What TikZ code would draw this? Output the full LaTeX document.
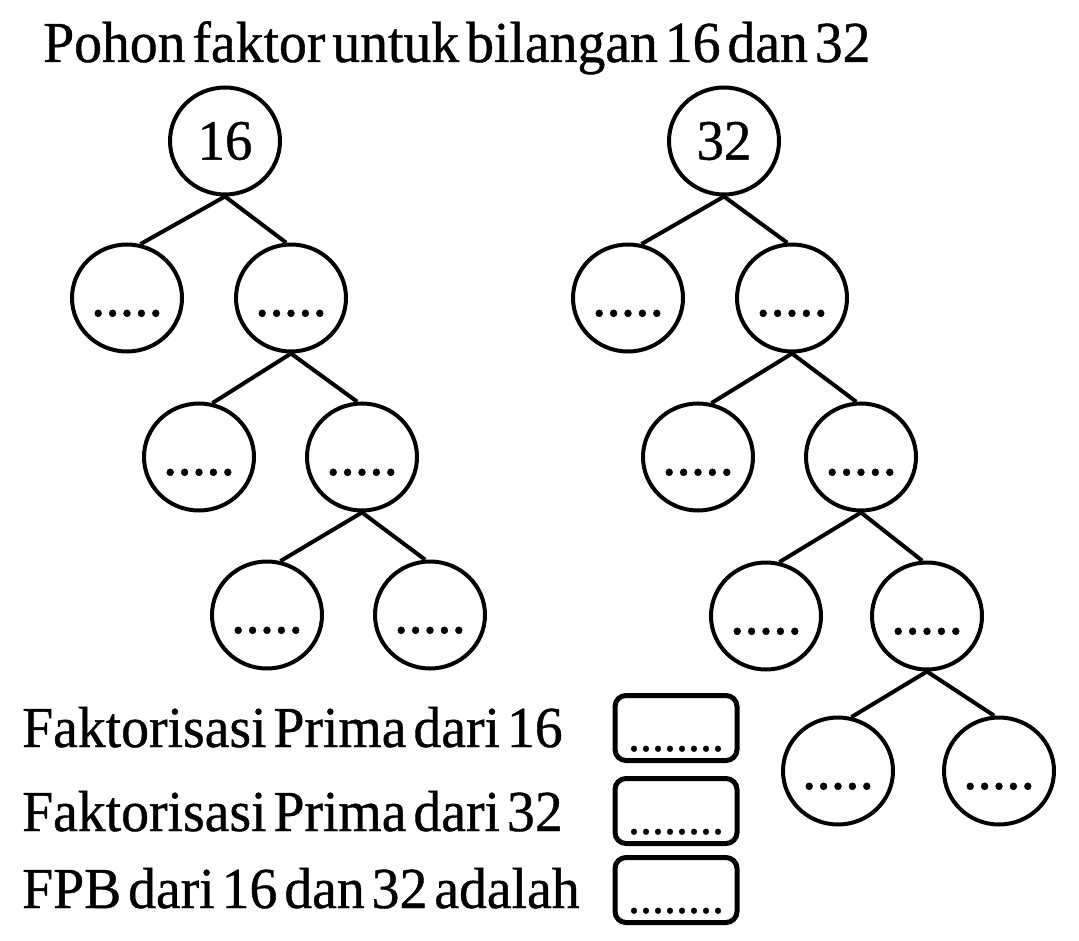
\documentclass[tikz,border=0pt]{standalone}
\usepackage{fontspec}
\setmainfont{Liberation Serif}[FakeStretch=0.96,FakeBold=0.7,WordSpace=0.5]
\usetikzlibrary{shapes.geometric}
\begin{document}
\begin{tikzpicture}[x=1pt,y=-1pt,
  cnode/.style={ellipse, draw, line width=4pt, minimum width=110pt, minimum height=107pt, inner sep=0pt,
    font=\fontsize{57}{58}\selectfont},
  edge/.style={line width=4pt},
  dotlab/.style={anchor=base, inner sep=0pt, font=\fontsize{60}{60}\selectfont},
  ansbox/.style={draw, line width=5pt, rounded corners=11pt, minimum width=122pt, minimum height=65pt, inner sep=0pt},
  boxdots/.style={anchor=base, inner sep=0pt, font=\fontsize{50}{50}\selectfont},
  txt/.style={anchor=base west, inner sep=0pt, font=\fontsize{58}{60}\selectfont}]
\useasboundingbox (0,0) rectangle (1079,941);
\newcommand{\putdots}[1]{\node[dotlab] at ([yshift=-18pt]#1.center) {.....};}
% title
\node[txt] (title) at (43,62) {Pohon faktor untuk bilangan 16 dan 32};
% left tree
\node[cnode] (a0) at (225,141) {16};
\node[cnode] (a1) at (127,298) {};
\node[cnode] (a2) at (291,298) {};
\node[cnode] (a3) at (199,457) {};
\node[cnode] (a4) at (362,457) {};
\node[cnode] (a5) at (267,615) {};
\node[cnode] (a6) at (430,615) {};
% right tree
\node[cnode] (b0) at (724,141) {32};
\node[cnode] (b1) at (628,298) {};
\node[cnode] (b2) at (792,298) {};
\node[cnode] (b3) at (698,457) {};
\node[cnode] (b4) at (861,457) {};
\node[cnode] (b5) at (766,616) {};
\node[cnode] (b6) at (927,616) {};
\node[cnode] (b7) at (838,771) {};
\node[cnode] (b8) at (999,771) {};
\foreach \n in {a1,a2,a3,a4,a5,a6,b1,b2,b3,b4,b5,b6,b7,b8}{\putdots{\n}}
% edges
\draw[edge] (a0.south) -- (a1.76);
\draw[edge] (a0.south) -- (a2.95);
\draw[edge] (a2.south) -- (a3.76);
\draw[edge] (a2.south) -- (a4.95);
\draw[edge] (a4.south) -- (a5.76);
\draw[edge] (a4.south) -- (a6.95);
\draw[edge] (b0.south) -- (b1.76);
\draw[edge] (b0.south) -- (b2.95);
\draw[edge] (b2.south) -- (b3.76);
\draw[edge] (b2.south) -- (b4.95);
\draw[edge] (b4.south) -- (b5.76);
\draw[edge] (b4.south) -- (b6.95);
\draw[edge] (b6.south) -- (b7.76);
\draw[edge] (b6.south) -- (b8.95);
% text lines
\node[txt] (t1) at (22,747) {Faktorisasi Prima dari 16};
\node[txt] (t2) at (22,831) {Faktorisasi Prima dari 32};
\node[txt] (t3) at (22,908) {FPB dari 16 dan 32 adalah};
% answer boxes
\node[ansbox] (k1) at (676,728) {};
\node[ansbox] (k2) at (676,811) {};
\node[ansbox] (k3) at (676,890) {};
\foreach \k in {k1,k2,k3}{\node[boxdots] at ([yshift=-23pt]\k.center) {........};}
\end{tikzpicture}
\end{document}
